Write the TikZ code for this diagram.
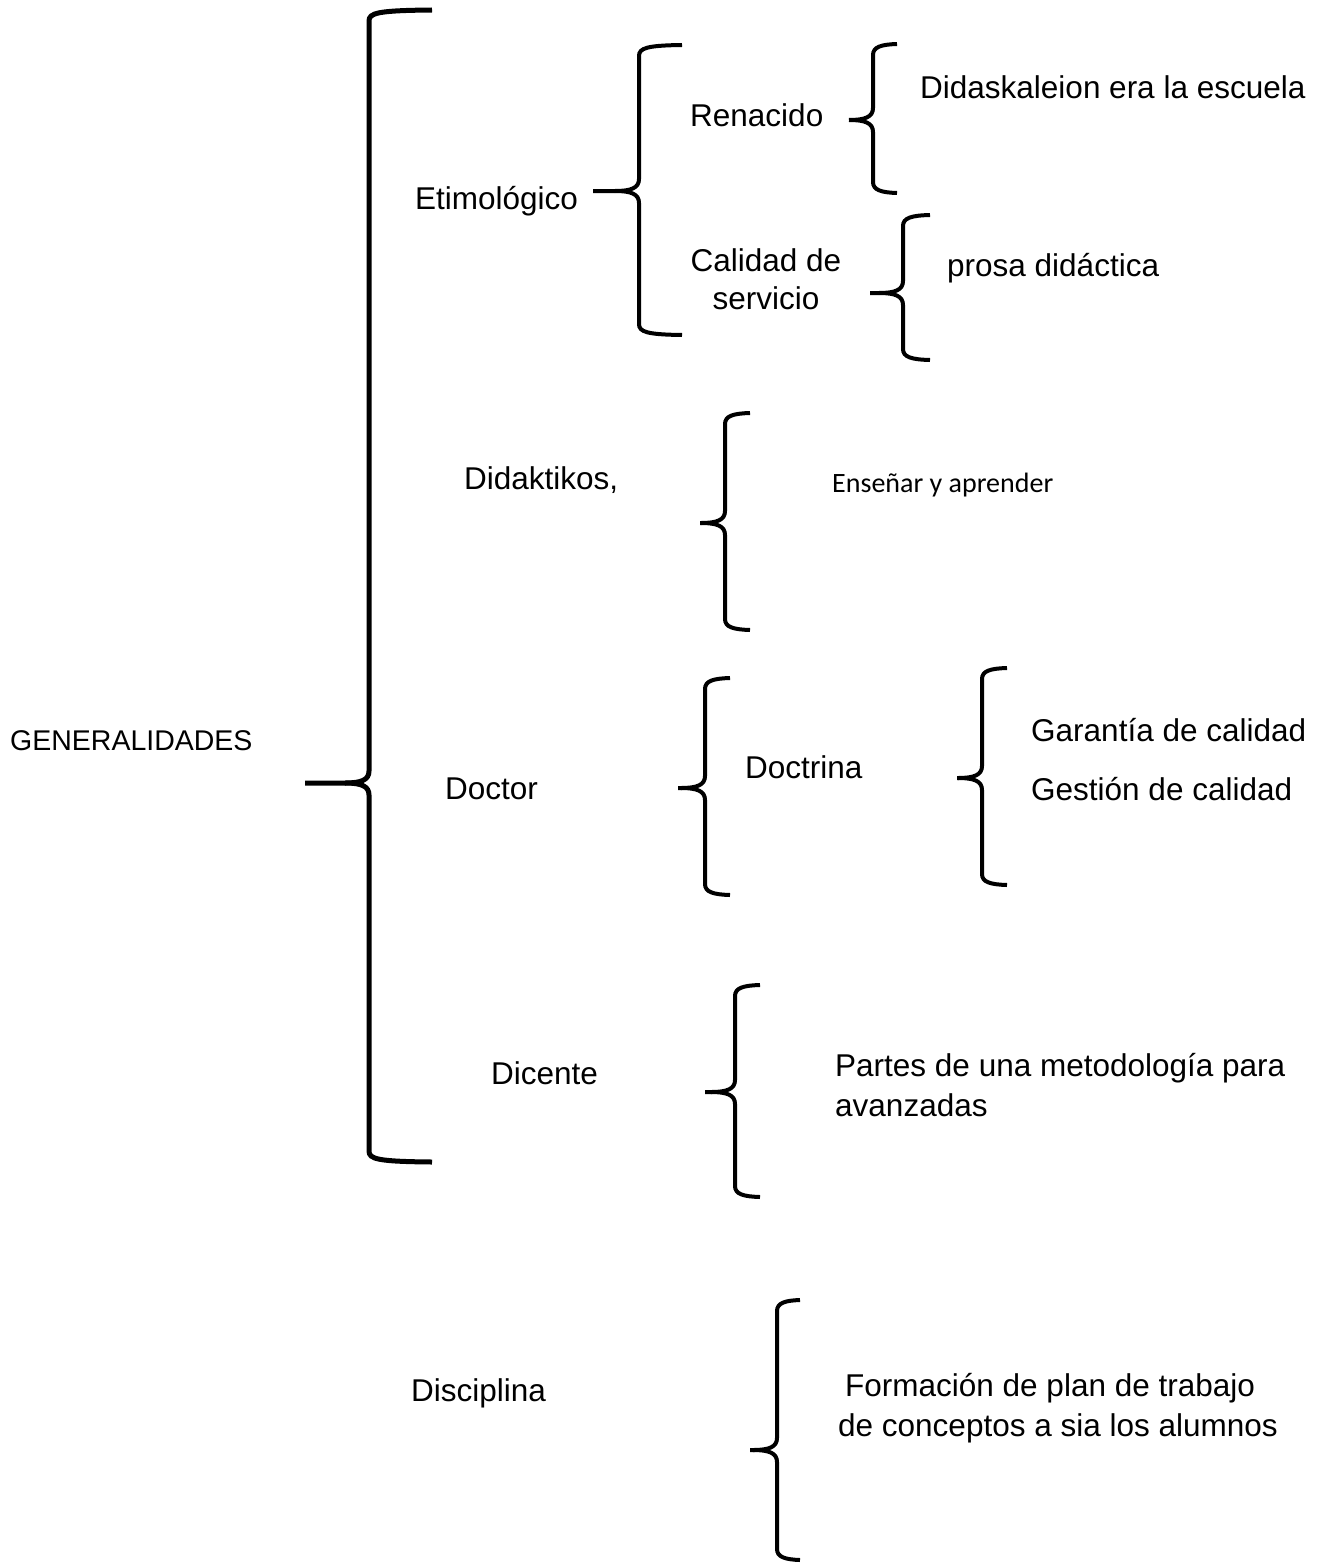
\documentclass[tikz,border=0pt]{standalone}
\usepackage{fontspec}
\setmainfont{Liberation Sans}
\newfontfamily\calib{Carlito}
% #1 line width, #2 x of vertical, #3 y top, #4 y bottom, #5 x of ends, #6 x of tip, #7 y of tip
\newcommand\drawbrace[7][4pt]{%
  \draw[line width=#1] (#5,#3) .. controls ({#2+8},{#3+0.5}) and (#2,{#3+3}) .. (#2,{#3+11})
    -- (#2,{#7-12}) .. controls (#2,{#7-3}) and ({#2-8},#7) .. ({#2-24},#7) -- (#6,#7);
  \draw[line width=#1] ({#2-24},#7) .. controls ({#2-8},#7) and (#2,{#7+3}) .. (#2,{#7+12})
    -- (#2,{#4-11}) .. controls (#2,{#4-3}) and ({#2+8},{#4-0.5}) .. (#5,#4);}
\begin{document}
\begin{tikzpicture}[x=1pt,y=-1pt,
  lbl/.style={inner sep=0pt, anchor=base west, font=\fontsize{31.5}{38}\selectfont},
  clbl/.style={lbl, anchor=base}]
\useasboundingbox (0,0) rectangle (1321,1568);
% braces
\drawbrace[5pt]{369}{10}{1162}{432}{305}{783}
\drawbrace{639}{45}{335}{682}{593}{191}
\drawbrace{873}{44}{193}{897}{851}{120}
\drawbrace{903}{215}{360}{930}{870}{293}
\drawbrace{725}{413}{630}{750}{700}{523}
\drawbrace{705}{678}{895}{730}{678}{788}
\drawbrace{982}{668}{885}{1007}{957}{778}
\drawbrace{735}{985}{1197}{760}{705}{1092}
\drawbrace{777}{1300}{1560}{800}{750}{1450}
% labels
\node[lbl, font=\fontsize{28.5}{34}\selectfont] (gen) at (10,750) {GENERALIDADES};
\node[lbl] (eti) at (415,209) {Etimológico};
\node[lbl] (ren) at (690,127) {Renacido};
\node[clbl] (cal1) at (766,271) {Calidad de};
\node[clbl] (cal2) at (766,309) {servicio};
\node[lbl] (dida) at (920,99) {Didaskaleion era la escuela};
\node[lbl] (prosa) at (947,276) {prosa didáctica};
\node[lbl] (didak) at (464,489) {Didaktikos,};
\node[lbl, font=\calib\fontsize{28}{34}\selectfont] (ens) at (832,492) {Enseñar y aprender};
\node[lbl] (doc) at (445,799) {Doctor};
\node[lbl] (doct) at (745,778) {Doctrina};
\node[lbl] (gar) at (1031,741) {Garantía de calidad};
\node[lbl] (ges) at (1031,800) {Gestión de calidad};
\node[lbl] (dic) at (491,1084) {Dicente};
\node[lbl] (par1) at (835,1076) {Partes de una metodología para};
\node[lbl] (par2) at (835,1116) {avanzadas};
\node[lbl] (dis) at (411,1401) {Disciplina};
\node[lbl] (for1) at (845,1396) {Formación de plan de trabajo};
\node[lbl] (for2) at (838,1436) {de conceptos a sia los alumnos};
\end{tikzpicture}
\end{document}
